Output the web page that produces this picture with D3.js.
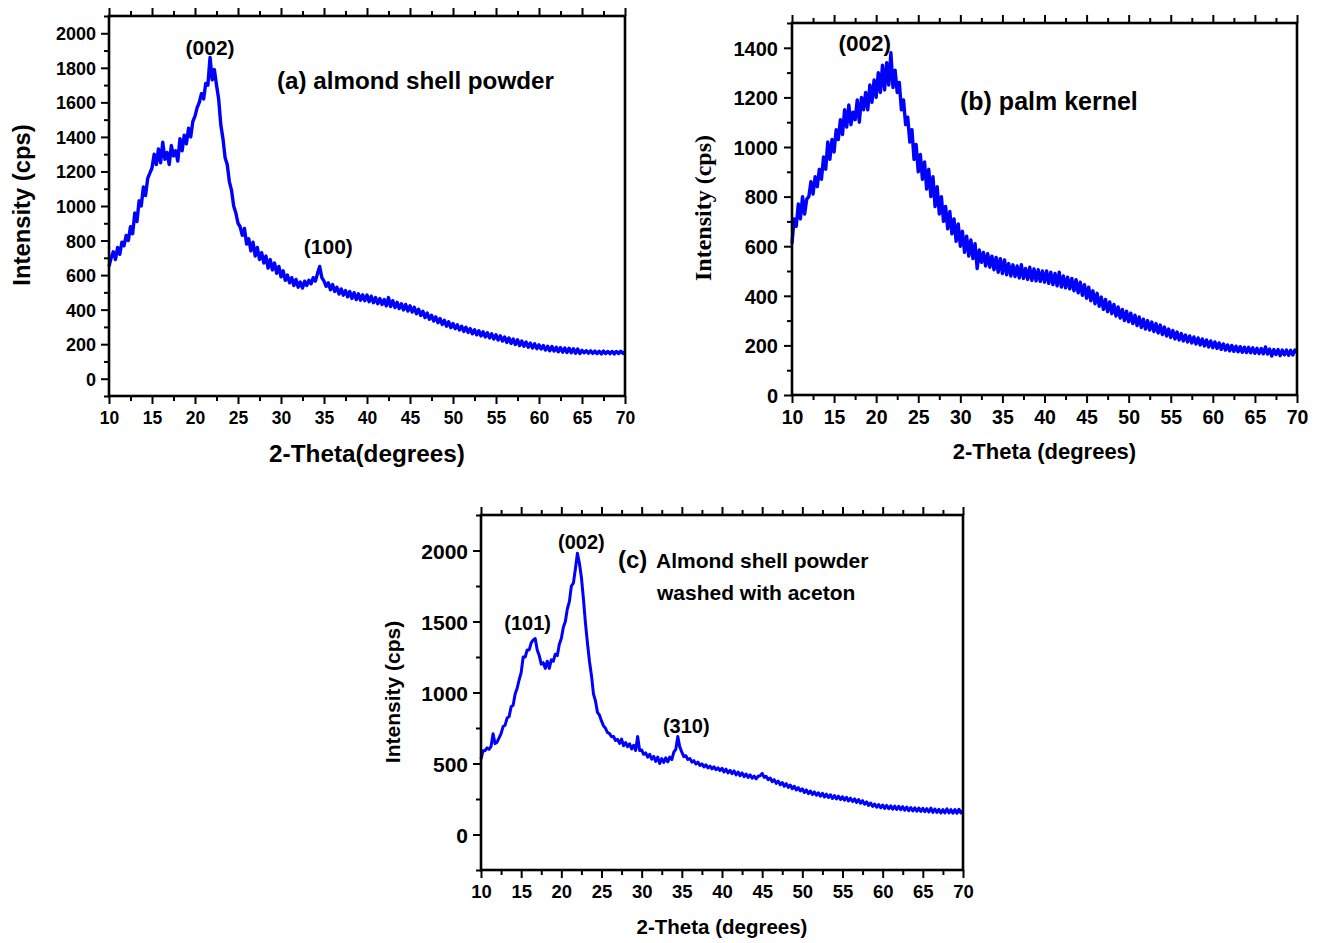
<!DOCTYPE html>
<html>
<head>
<meta charset="utf-8">
<script src="https://cdn.jsdelivr.net/npm/d3@7"></script>
<style>
  body { margin: 0; background: #fff; }
  svg text { font-family: "Liberation Sans", Arial, sans-serif; font-weight: bold; fill: #000; }
</style>
</head>
<body>
<svg id="fig" width="1322" height="943"></svg>
<script>
// XRD scans: 2-theta from 10 to 70 degrees, 0.25 degree step
const scanStart = 10;
const scanStep = 0.25;

// (a) almond shell powder, intensity in cps
const almondShell = [
  650,700,735,690,760,720,790,770,830,800,880,840,960,910,1030,1000,1110,1060,1160,1190,
  1220,1300,1240,1330,1250,1370,1270,1310,1240,1350,1290,1320,1260,1390,1320,1410,1360,1450,1400,1490,
  1520,1570,1600,1650,1620,1710,1700,1860,1730,1790,1700,1620,1470,1390,1280,1240,1140,1090,1000,960,
  900,880,830,870,780,810,740,790,710,760,690,730,670,710,640,690,630,670,610,650,
  590,625,570,600,555,585,540,575,530,560,525,565,540,570,550,585,565,610,650,585,
  565,535,555,515,545,505,530,490,520,484,510,474,505,465,498,458,492,455,486,452,
  484,446,478,440,470,434,464,430,458,422,470,418,452,412,442,406,434,398,430,392,
  422,386,414,376,402,366,390,354,380,344,368,334,358,324,348,314,338,304,330,296,
  320,290,312,282,304,274,298,268,290,260,284,254,278,248,272,242,266,236,260,230,
  254,224,248,218,242,210,236,204,230,198,226,192,218,188,212,182,206,178,202,174,
  196,172,192,166,188,162,186,160,182,156,180,154,178,152,176,150,174,148,172,146,
  164,150,162,148,161,147,160,146,159,144,160,146,158,145,158,144,158,146,159,147,
  156
];

// (b) palm kernel
const palmKernel = [
  610,710,680,770,710,800,730,790,800,860,810,880,840,910,870,960,910,1020,950,1030,
  980,1070,1030,1110,1050,1150,1080,1170,1090,1140,1110,1190,1100,1200,1150,1220,1150,1250,1180,1270,
  1200,1300,1220,1330,1230,1340,1250,1380,1240,1310,1220,1260,1150,1190,1090,1120,1020,1070,950,1010,
  900,970,870,940,830,910,800,880,760,840,730,800,700,760,670,740,650,710,620,690,
  600,660,575,640,560,625,550,610,510,585,535,575,520,570,515,560,505,555,495,550,
  490,545,485,530,480,525,478,520,472,525,470,510,466,515,462,508,460,505,458,500,
  455,500,450,495,445,490,440,495,435,480,432,475,428,470,420,465,412,455,402,445,
  390,435,380,420,368,410,358,395,345,385,336,375,328,365,318,355,310,345,300,338,
  295,330,288,322,280,315,272,306,266,300,262,294,256,288,250,282,244,274,238,266,
  232,260,226,254,222,248,218,242,214,238,210,234,206,230,202,226,198,222,194,218,
  191,214,188,210,184,206,181,202,178,200,176,197,174,195,172,193,171,192,170,190,
  168,188,167,187,166,194,165,185,157,183,163,183,159,181,162,181,160,180,161,181,
  172
];

// (c) almond shell powder washed with acetone
const almondAcetone = [
  530,590,590,610,600,620,710,640,650,680,710,760,770,820,830,900,910,990,1030,1090,
  1140,1250,1250,1300,1300,1350,1370,1380,1300,1260,1200,1210,1170,1220,1170,1230,1220,1270,1260,1340,
  1380,1460,1500,1590,1640,1750,1770,1870,1980,1910,1810,1660,1490,1350,1220,1120,990,940,860,840,
  800,765,748,718,710,688,690,662,670,642,672,625,648,618,638,602,628,592,690,592,
  595,565,575,545,565,530,550,515,545,500,535,508,540,512,545,528,580,600,690,615,
  580,548,555,528,535,510,520,496,510,486,498,476,490,468,482,462,476,456,470,450,
  466,440,460,434,452,428,448,420,440,414,434,408,426,402,420,396,412,392,410,414,
  430,402,410,386,398,372,386,360,376,350,366,340,358,332,348,322,340,314,330,306,
  322,296,314,288,306,282,300,276,294,270,290,264,284,260,280,254,274,250,270,246,
  266,242,262,236,256,232,251,226,246,220,238,213,230,205,222,198,215,192,211,188,
  208,184,205,181,202,178,200,176,198,174,196,171,193,168,190,166,188,164,186,162,
  184,160,182,158,186,156,179,155,177,152,176,152,180,152,175,150,176,150,178,152,
  166
];

// tick values
const xMajor = [10,15,20,25,30,35,40,45,50,55,60,65,70];
const xMinor = [12.5,17.5,22.5,27.5,32.5,37.5,42.5,47.5,52.5,57.5,62.5,67.5];
const yMajorA = [0,200,400,600,800,1000,1200,1400,1600,1800,2000];
const yMinorA = [-100,100,300,500,700,900,1100,1300,1500,1700,1900,2100];
const yMajorB = [0,200,400,600,800,1000,1200,1400];
const yMinorB = [100,300,500,700,900,1100,1300,1500];
const yMajorC = [0,500,1000,1500,2000];
const yMinorC = [-250,250,750,1250,1750,2250];

// peak labels: [text, 2-theta, intensity]
const peaksA = [["(002)", 21.75, 1877], ["(100)", 35.5, 720]];
const peaksB = [["(002)", 18.65, 1388]];
const peaksC = [["(002)", 22.5, 2010], ["(101)", 15.8, 1438], ["(310)", 35.55, 718]];

const svg = d3.select("#fig");
const twoTheta = v => scanStart + v * scanStep;

function drawPanel(p) {
  const g = svg.append("g");
  const x = d3.scaleLinear().domain([10, 70]).range([p.left, p.right]);
  const y = d3.scaleLinear().domain(p.yDomain).range([p.bottom, p.top]);

  // scan trace
  const line = d3.line()
    .x((d, i) => x(twoTheta(i)))
    .y(d => y(d));
  g.append("path")
    .datum(p.values)
    .attr("d", line)
    .attr("fill", "none")
    .attr("stroke", "#0000ff")
    .attr("stroke-width", p.lineWidth)
    .attr("stroke-linejoin", "round");

  // ticks
  const styleAxis = sel => {
    sel.select(".domain").remove();
    sel.selectAll(".tick line").attr("stroke", "#000").attr("stroke-width", 2);
  };
  const none = () => "";

  g.append("g").attr("transform", `translate(0,${p.bottom})`)
    .call(d3.axisBottom(x).tickValues(xMinor).tickSize(5).tickFormat(none)).call(styleAxis);
  const bx = g.append("g").attr("transform", `translate(0,${p.bottom})`)
    .call(d3.axisBottom(x).tickValues(xMajor).tickSize(8).tickFormat(d3.format("d"))).call(styleAxis);
  bx.selectAll("text").attr("y", p.xLabelDy).attr("dy", 0)
    .style("font-size", p.xFont + "px");

  g.append("g").attr("transform", `translate(0,${p.top})`)
    .call(d3.axisTop(x).tickValues(xMinor).tickSize(5).tickFormat(none)).call(styleAxis);
  g.append("g").attr("transform", `translate(0,${p.top})`)
    .call(d3.axisTop(x).tickValues(xMajor).tickSize(8).tickFormat(none)).call(styleAxis);

  g.append("g").attr("transform", `translate(${p.left},0)`)
    .call(d3.axisLeft(y).tickValues(p.yMinor).tickSize(5).tickFormat(none)).call(styleAxis);
  const ly = g.append("g").attr("transform", `translate(${p.left},0)`)
    .call(d3.axisLeft(y).tickValues(p.yMajor).tickSize(8).tickFormat(d3.format("d"))).call(styleAxis);
  ly.selectAll("text").attr("x", -p.yLabelDx).attr("dy", "0.36em")
    .style("font-size", p.yFont + "px");
  g.selectAll(".tick text").attr("fill", "#000").style("font-family", "'Liberation Sans', Arial, sans-serif").style("font-weight", "bold");

  // frame
  g.append("rect")
    .attr("x", p.left).attr("y", p.top)
    .attr("width", p.right - p.left).attr("height", p.bottom - p.top)
    .attr("fill", "none").attr("stroke", "#000").attr("stroke-width", 2.6);

  // axis titles
  g.append("text")
    .attr("x", (p.left + p.right) / 2).attr("y", p.xTitleY)
    .attr("text-anchor", "middle").style("font-size", p.xTitleFont + "px")
    .text(p.xTitle);
  g.append("text")
    .attr("transform", `translate(${p.yTitleX},${p.yTitleY}) rotate(-90)`)
    .attr("text-anchor", "middle").style("font-size", p.yTitleFont + "px")
    .style("font-family", p.yTitleFamily || null)
    .text("Intensity (cps)");

  // peak indices
  g.selectAll("text.peak").data(p.peaks).enter().append("text")
    .attr("class", "peak")
    .attr("x", d => x(d[1])).attr("y", d => y(d[2]))
    .attr("text-anchor", "middle").style("font-size", p.peakFont + "px")
    .text(d => d[0]);

  // sample captions
  p.captions.forEach(c => {
    g.append("text").attr("x", c.x).attr("y", c.y)
      .style("font-size", c.size + "px").text(c.text);
  });
}

drawPanel({
  left: 109, right: 625, top: 16, bottom: 396,
  yDomain: [-100, 2100], yMajor: yMajorA, yMinor: yMinorA,
  values: almondShell, lineWidth: 3.4,
  xFont: 17.5, yFont: 18, xLabelDy: 28, yLabelDx: 13,
  xTitle: "2-Theta(degrees)", xTitleY: 462, xTitleFont: 24.3,
  yTitleX: 30, yTitleY: 205, yTitleFont: 23.8,
  peaks: peaksA, peakFont: 21,
  captions: [{ text: "(a) almond shell powder", x: 277, y: 89, size: 24.2 }]
});

drawPanel({
  left: 792, right: 1297, top: 23, bottom: 395,
  yDomain: [0, 1500], yMajor: yMajorB, yMinor: yMinorB,
  values: palmKernel, lineWidth: 3.4,
  xFont: 19.5, yFont: 20, xLabelDy: 29, yLabelDx: 14,
  xTitle: "2-Theta (degrees)", xTitleY: 459, xTitleFont: 22,
  yTitleX: 711, yTitleY: 208, yTitleFont: 24, yTitleFamily: "'Liberation Serif', 'Times New Roman', serif",
  peaks: peaksB, peakFont: 22.5,
  captions: [{ text: "(b) palm kernel", x: 960, y: 110, size: 25 }]
});

drawPanel({
  left: 481, right: 963, top: 515, bottom: 870,
  yDomain: [-250, 2250], yMajor: yMajorC, yMinor: yMinorC,
  values: almondAcetone, lineWidth: 3,
  xFont: 18.5, yFont: 21, xLabelDy: 28, yLabelDx: 13,
  xTitle: "2-Theta (degrees)", xTitleY: 934, xTitleFont: 20.5,
  yTitleX: 400, yTitleY: 692, yTitleFont: 21,
  peaks: peaksC, peakFont: 20,
  captions: [
    { text: "(c)", x: 618, y: 568, size: 24 },
    { text: "Almond shell powder", x: 656, y: 568, size: 21 },
    { text: "washed with aceton", x: 657, y: 600, size: 21 }
  ]
});
</script>
</body>
</html>
